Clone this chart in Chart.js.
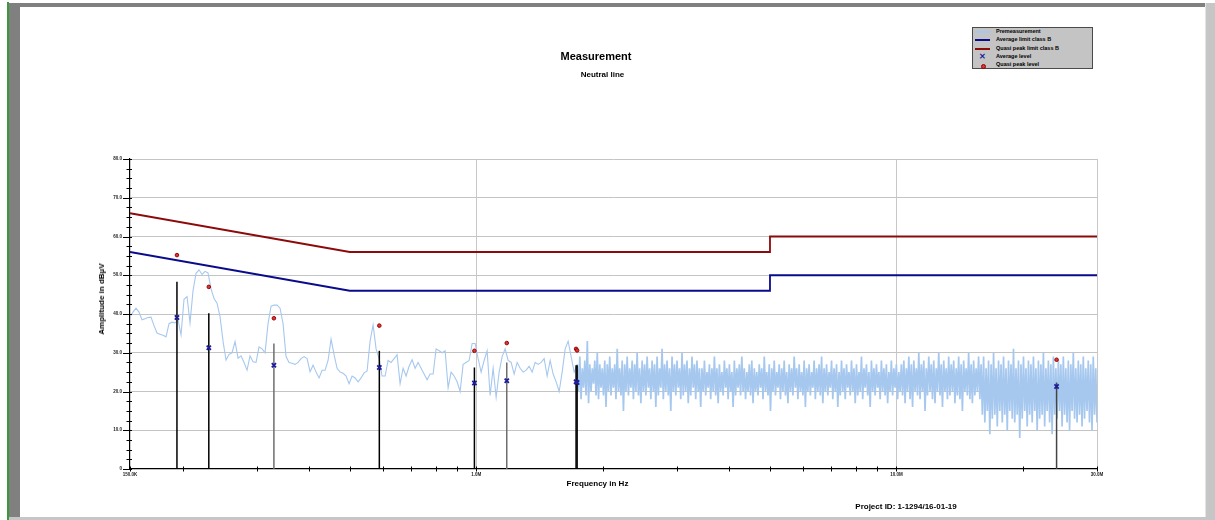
<!DOCTYPE html>
<html><head><meta charset="utf-8">
<script src="https://cdn.jsdelivr.net/npm/chart.js@4/dist/chart.umd.min.js"></script>
<style>
html,body{margin:0;padding:0;background:#fff;width:1215px;height:520px;overflow:hidden;font-family:"Liberation Sans",Arial,sans-serif;}
#wrap{position:relative;width:1215px;height:520px;}
canvas{position:absolute;left:0;top:0;}
.blk{position:absolute;}
.txt{position:absolute;white-space:nowrap;font-weight:bold;color:#000;line-height:1;transform:translate(-50%,-50%);}
.lt{position:absolute;white-space:nowrap;font-weight:bold;color:#000;line-height:1;font-size:5.5px;transform:translateY(-50%);left:996px;}
.ls{position:absolute;left:975px;width:15px;height:2px;transform:translateY(-50%);}
</style></head><body>
<div id="wrap">
<canvas id="c" width="1215" height="520"></canvas>
<!-- frame -->
<div class="blk" style="left:7px;top:2px;width:2px;height:518px;background:#3a9a3a"></div>
<div class="blk" style="left:9px;top:3px;width:11px;height:514px;background:#808080"></div>
<div class="blk" style="left:9px;top:3px;width:1197px;height:4px;background:#808080"></div>
<div class="blk" style="left:1205px;top:3px;width:1px;height:517px;background:#e4e4e4"></div>
<div class="blk" style="left:1206px;top:3px;width:9px;height:517px;background:#c6c6c6"></div>
<div class="blk" style="left:9px;top:517px;width:1206px;height:3px;background:#c6c6c6"></div>
<!-- titles -->
<div class="txt" style="left:596px;top:56px;font-size:11px">Measurement</div>
<div class="txt" style="left:602.5px;top:74.5px;font-size:8px">Neutral line</div>
<div class="txt" style="left:597.5px;top:484px;font-size:8px">Frequency in Hz</div>
<div class="txt" style="left:102px;top:299px;font-size:8px;transform:translate(-50%,-50%) rotate(-90deg)">Amplitude in dBµV</div>
<div class="txt" style="left:906px;top:507px;font-size:8px">Project ID: 1-1294/16-01-19</div>
<!-- legend -->
<div class="blk" style="left:972px;top:27px;width:121px;height:42px;background:#c4c4c4;border:1px solid #4a4a4a;box-sizing:border-box"></div>
<div class="ls" style="top:31.7px;background:#a6c8ef"></div>
<div class="lt" style="top:31.7px">Premeasurement</div>
<div class="ls" style="top:40.1px;background:#0a0a8c"></div>
<div class="lt" style="top:40.1px">Average limit class B</div>
<div class="ls" style="top:48.5px;background:#8c0a0a"></div>
<div class="lt" style="top:48.5px">Quasi peak limit class B</div>
<div class="blk" style="left:979px;top:57px;font-size:8px;font-weight:bold;color:#1c1c9c;line-height:1;transform:translateY(-50%)">✕</div>
<div class="lt" style="top:56.9px">Average level</div>
<div class="blk" style="left:981px;top:63.8px;width:3px;height:3px;border-radius:50%;background:#d03a3a;border:1px solid #a00000;box-sizing:content-box"></div>
<div class="lt" style="top:65.3px">Quasi peak level</div>
</div>
<script>
// ---- data ----
const xTickValues = [150000, 1000000, 10000000, 30000000];
const xTickLabels = ['150.0K', '1.0M', '10.0M', '30.0M'];
const xMinorTickValues = [200000,300000,400000,500000,600000,700000,800000,900000,
  2000000,3000000,4000000,5000000,6000000,7000000,8000000,9000000,20000000];
const yTickValues = [0,10,20,30,40,50,60,70,80];
const yTickLabels = ['0','10.0','20.0','30.0','40.0','50.0','60.0','70.0','80.0'];
const yMinorTickValues = [2.5,5,7.5,12.5,15,17.5,22.5,25,27.5,32.5,35,37.5,42.5,45,47.5,
  52.5,55,57.5,62.5,65,67.5,72.5,75,77.5];

const avgLimitHz = [150000, 500000, 5000000, 5000000, 30000000];
const avgLimitDb = [56, 46, 46, 50, 50];
const qpLimitHz  = [150000, 500000, 5000000, 5000000, 30000000];
const qpLimitDb  = [66, 56, 56, 60, 60];

const markerFreqHz = [194000, 231000, 330000, 588000, 990000, 1182000, 1728000, 1738000, 24040000];
const qpLevel      = [55.2, 47.0, 38.9, 37.0, 30.5, 32.5, 31.0, 30.6, 28.2];
const avgLevel     = [39.1, 31.3, 26.8, 26.2, 22.2, 22.8, 22.5, 22.3, 21.3];
const stemTop      = [48.3, 40.2, 32.4, 30.5, 26.2, 27.5, 26.8, 26.8, 22.3];

// premeasurement sweep, low part 150 kHz .. 1.71 MHz
const premeasLowStartHz = 150000, premeasLowStopHz = 1710000;
const premeasLow = [
39.3,40.5,41.5,40.5,38.5,38.8,39.1,39.2,37.0,35.1,
34.8,34.5,34.1,37.5,37.9,37.7,38.5,34.6,43.8,44.5,
37.7,46.0,50.5,51.4,50.2,51.0,50.6,46.5,44.0,42.8,
39.3,33.0,28.1,29.6,30.0,32.9,28.6,29.2,27.5,25.5,
29.2,27.7,27.5,31.5,31.0,30.0,37.5,42.0,42.3,42.3,
41.5,37.5,29.0,27.5,27.3,27.0,27.5,28.5,29.0,28.5,
25.1,26.8,25.0,23.5,25.5,25.5,28.0,33.5,29.5,26.0,
25.0,24.7,24.0,22.0,24.0,23.5,22.5,23.5,24.8,25.3,
33.0,37.2,31.0,28.5,24.0,24.0,28.0,27.5,28.5,29.5,
22.0,26.0,24.0,26.5,28.2,26.0,27.5,26.0,24.5,23.0,
24.5,24.5,31.0,30.5,30.0,30.5,21.0,25.0,24.0,22.5,
20.0,27.0,27.5,28.0,32.4,32.4,28.5,25.0,28.0,30.5,
19.0,26.0,18.5,25.0,29.0,31.0,28.0,27.5,24.5,27.5,
26.0,25.0,25.5,26.5,25.0,27.5,27.0,27.5,28.5,24.0,
28.0,24.5,22.5,20.0,25.0,31.0,33.0,29.0,25.0];
// premeasurement sweep, high part 1.74 MHz .. 30 MHz (dense noise floor)
const premeasHighStartHz = 1740000, premeasHighStopHz = 30000000;
const premeasHigh = [
27,20,29,18,26,21,28,19,33,17,27,20,26,22,28,19,30,18,27,21,
26,19,28,16,27,20,29,19,26,21,27,18,31,20,26,19,28,15,27,20,
29,19,26,21,28,18,27,20,30,19,26,17,28,20,27,19,29,21,26,18,
28,20,27,16,29,19,26,21,31,18,27,20,28,19,26,15,29,20,27,19,
28,21,26,18,30,19,27,20,28,17,26,19,29,21,27,18,28,20,26,16,
26,20,28,19,25,21,27,18,26,20,29,19,26,17,27,20,25,19,28,21,
26,18,27,20,25,16,28,19,26,21,27,19,29,20,26,18,25,20,27,19,
28,17,26,20,25,19,27,21,26,18,29,20,25,19,27,15,26,20,28,19,
25,21,27,18,26,20,28,19,25,17,27,20,26,19,29,21,26,18,27,20,
25,19,28,16,26,20,27,19,25,21,28,18,26,20,27,19,29,17,26,20,
27,19,25,21,28,18,26,20,27,16,25,19,28,20,26,18,27,21,25,19,
28,20,26,17,27,19,25,20,29,18,26,21,27,19,25,16,28,20,26,19,
27,21,25,18,28,20,26,19,27,17,25,20,28,19,26,21,27,18,25,20,
27,19,28,17,26,20,29,18,27,16,28,20,26,19,30,18,27,20,28,15,
26,19,29,20,27,18,28,17,26,20,30,19,27,16,28,20,26,18,29,19,
27,20,28,17,26,19,29,18,27,15,28,20,26,19,30,18,27,17,28,19,
26,20,29,18,
27,14,29,12,26,15,28,9,27,13,30,14,26,11,28,15,27,12,29,14,
26,10,28,15,27,13,31,12,26,14,28,8,27,13,29,15,26,11,28,14,
27,12,29,15,26,10,28,13,27,14,30,11,26,15,28,12,27,9,29,14,
26,13,28,15,27,11,29,14,26,12,28,10,27,15,30,13,26,12,28,14,
27,11,29,13,26,15,28,12,27,10,29,14,26,12];

// ---- build chart data ----
function sweep(startHz, stopHz, vals){
  const n = vals.length;
  return vals.map((v,i)=>({x: startHz*Math.pow(stopHz/startHz, i/(n-1)), y: v}));
}
const traceData = sweep(premeasLowStartHz, premeasLowStopHz, premeasLow)
  .concat(sweep(premeasHighStartHz, premeasHighStopHz, premeasHigh));
const denseFrom = premeasLow.length;
const pairs = (xs, ys) => xs.map((x,i)=>({x, y: ys[i]}));
const stemData = [];
markerFreqHz.forEach((f,i)=>{ stemData.push({x:f,y:0},{x:f,y:stemTop[i]},{x:f,y:null}); });
const stemColors = ['#000','#000','#6e6e6e','#000','#000','#6e6e6e','#000','#000','#444'];

const tickPlugin = {
  id: 'axisTicks',
  afterDraw(chart){
    const {ctx, scales:{x, y}} = chart;
    const yb = y.getPixelForValue(0);
    const xl = x.getPixelForValue(xTickValues[0]);
    ctx.save();
    ctx.strokeStyle = '#000';
    ctx.lineWidth = 1;
    ctx.beginPath();
    xMinorTickValues.concat(xTickValues).forEach(v=>{
      const px = Math.round(x.getPixelForValue(v)) + 0.5;
      ctx.moveTo(px, yb - 2.5); ctx.lineTo(px, yb + 2.5);
    });
    yTickValues.forEach(v=>{
      const py = Math.round(y.getPixelForValue(v)) + 0.5;
      ctx.moveTo(xl - 7, py); ctx.lineTo(xl + 2, py);
    });
    yMinorTickValues.forEach(v=>{
      const py = Math.round(y.getPixelForValue(v)) + 0.5;
      ctx.moveTo(xl - 3.5, py); ctx.lineTo(xl + 2, py);
    });
    ctx.stroke();
    ctx.restore();
  }
};

new Chart(document.getElementById('c'), {
  type: 'line',
  data: {
    datasets: [
      {label:'Quasi peak level', data: pairs(markerFreqHz, qpLevel), showLine:false, order:0,
       pointStyle:'circle', pointRadius:1.8, pointBorderWidth:1, pointBorderColor:'#a00000', pointBackgroundColor:'#d03a3a'},
      {label:'Average level', data: pairs(markerFreqHz, avgLevel), showLine:false, order:1,
       pointStyle:'crossRot', pointRadius:3, pointBorderWidth:1.8, pointBorderColor:'#1c1c9c'},
      {label:'Stems', data: stemData, order:2, spanGaps:false, pointRadius:0, borderWidth:1.5, borderColor:'#000',
       segment:{borderColor: c => stemColors[Math.floor(c.p0DataIndex/3)]}},
      {label:'Quasi peak limit class B', data: pairs(qpLimitHz, qpLimitDb), order:3, pointRadius:0, borderWidth:1.8, borderColor:'#8c0a0a'},
      {label:'Average limit class B', data: pairs(avgLimitHz, avgLimitDb), order:4, pointRadius:0, borderWidth:1.8, borderColor:'#0a0a8c'},
      {label:'Premeasurement', data: traceData, order:5, pointRadius:0, borderWidth:1, borderColor:'#a6c8ef', tension:0,
       segment:{borderWidth: c => c.p0DataIndex >= denseFrom ? 1.7 : 1.1}}
    ]
  },
  options: {
    responsive:false, animation:false, devicePixelRatio:1,
    layout:{padding:{left:0, right:118, top:159, bottom:0}},
    plugins:{legend:{display:false}, tooltip:{enabled:false}, title:{display:false}},
    scales:{
      x:{type:'logarithmic', min:150000, max:30000000,
         afterBuildTicks(s){ s.ticks = xTickValues.map(v=>({value:v})); },
         afterFit(s){ s.height = 51; },
         ticks:{autoSkip:false, maxRotation:0, minRotation:0, padding:3, color:'#222',
                font:{size:4.5, family:'Liberation Sans', weight:'bold'},
                callback:(v,i)=>xTickLabels[i]},
         grid:{drawTicks:false, lineWidth:1, color:c => c.index===0 ? 'rgba(0,0,0,0)' : '#c8c8c8'},
         border:{display:true, color:'#000', width:1.2}},
      y:{type:'linear', min:0, max:80,
         afterBuildTicks(s){ s.ticks = yTickValues.map(v=>({value:v})); },
         afterFit(s){ s.width = 130; },
         ticks:{padding:8, color:'#222', font:{size:4.5, family:'Liberation Sans', weight:'bold'},
                callback:(v,i)=>yTickLabels[i]},
         grid:{drawTicks:false, lineWidth:1, color:c => c.index===0 ? 'rgba(0,0,0,0)' : '#c4c4c4'},
         border:{display:true, color:'#000', width:1.2}}
    }
  },
  plugins:[tickPlugin]
});
</script>
</body></html>
